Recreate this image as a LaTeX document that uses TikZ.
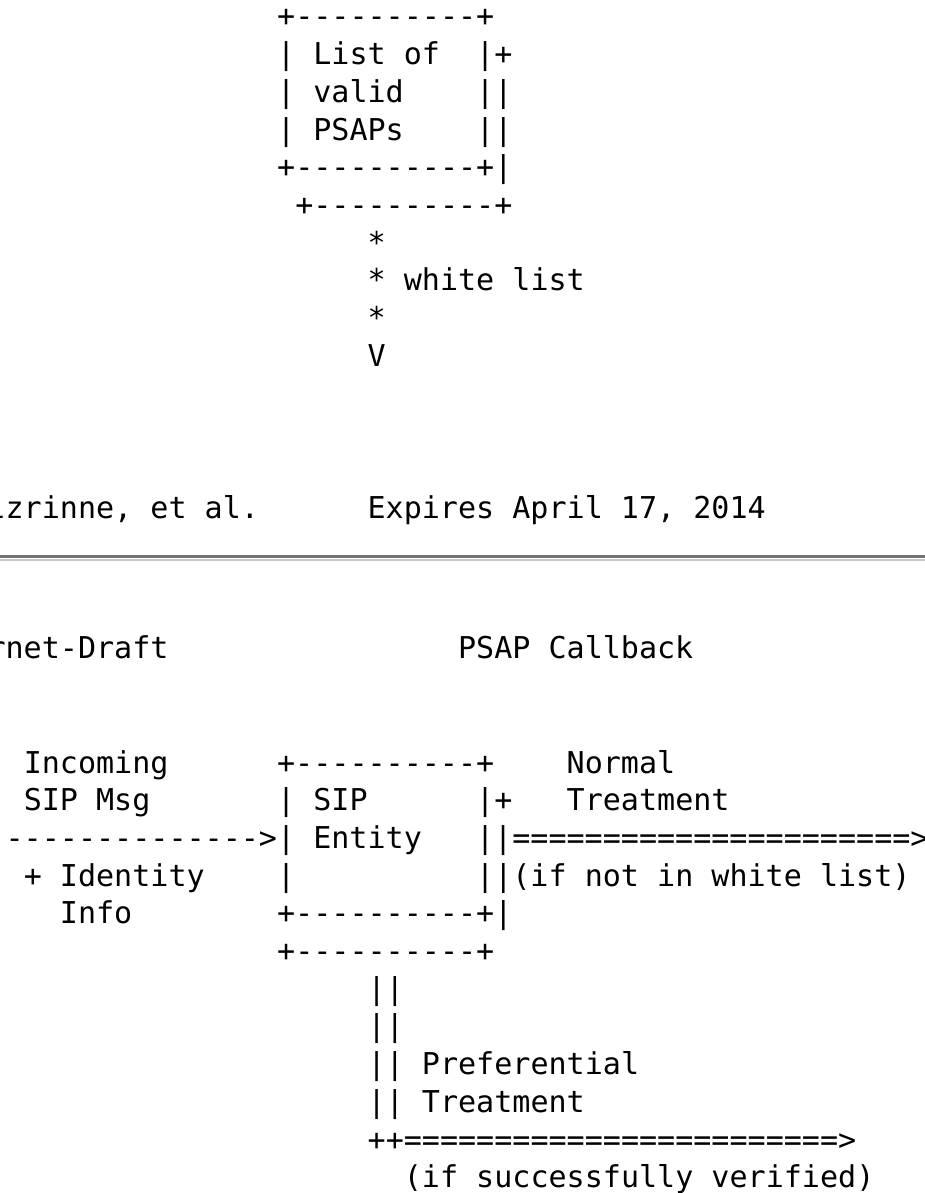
\documentclass[tikz,border=0pt]{standalone}
\usepackage{fontspec}
\setmonofont{DejaVu Sans Mono}
\tikzset{ascii/.style={anchor=base west,inner sep=0pt,font=\ttfamily\fontsize{30.06}{37.7}\selectfont},
  rulehi/.style={draw=black!55,line width=3pt},
  rulelo/.style={draw=black!22,line width=2pt}}

\begin{document}
\begin{tikzpicture}[x=1pt,y=-1pt]
  \useasboundingbox (0,0) rectangle (925,1193);
  \clip (0,0) rectangle (925,1193);
  % list of valid PSAPs, end of page
  \node (wl0) at (276.95,27) [ascii] {+----------+};
  \node (wl1) at (276.95,64.7) [ascii] {|~List~of~~|+};
  \node (wl2) at (276.95,102.4) [ascii] {|~valid~~~~||};
  \node (wl3) at (276.95,140.1) [ascii] {|~PSAPs~~~~||};
  \node (wl4) at (276.95,177.8) [ascii] {+----------+|};
  \node (wl5) at (295.05,215.5) [ascii] {+----------+};
  \node (wl6) at (367.45,253.2) [ascii] {*};
  \node (wl7) at (367.45,290.9) [ascii] {*~white~list};
  \node (wl8) at (367.45,328.6) [ascii] {*};
  \node (wl9) at (367.45,366.3) [ascii] {V};
  \node (foot) at (-12.65,518) [ascii] {lzrinne,~et~al.~~~~~~Expires~April~17,~2014};
  % page break
  \coordinate (ruleL) at (0,556.5);
  \coordinate (ruleR) at (925,556.5);
  \coordinate (lowL) at (0,559.5);
  \coordinate (lowR) at (925,559.5);
  \draw[rulehi] (ruleL) -- (ruleR);
  \draw[rulelo] (lowL) -- (lowR);
  \node (head) at (-12.65,658) [ascii] {rnet-Draft~~~~~~~~~~~~~~~~PSAP~Callback};
  % SIP entity, next page
  \node (cb0) at (23.55,773) [ascii] {Incoming~~~~~~+----------+~~~~Normal};
  \node (cb1) at (23.55,810.7) [ascii] {SIP~Msg~~~~~~~|~SIP~~~~~~|+~~~Treatment};
  \node (cb2) at (5.45,848.4) [ascii] {-------------->|~Entity~~~||======================>};
  \node (cb3) at (23.55,886.1) [ascii] {+~Identity~~~~|~~~~~~~~~~||(if~not~in~white~list)};
  \node (cb4) at (59.75,923.8) [ascii] {Info~~~~~~~~+----------+|};
  \node (cb5) at (276.95,961.5) [ascii] {+----------+};
  \node (cb6) at (367.45,999.2) [ascii] {||};
  \node (cb7) at (367.45,1036.9) [ascii] {||};
  \node (cb8) at (367.45,1074.6) [ascii] {||~Preferential};
  \node (cb9) at (367.45,1112.3) [ascii] {||~Treatment};
  \node (cb10) at (367.45,1150) [ascii] {++========================>};
  \node (cb11) at (403.65,1187.7) [ascii] {(if~successfully~verified)};
\end{tikzpicture}
\end{document}
